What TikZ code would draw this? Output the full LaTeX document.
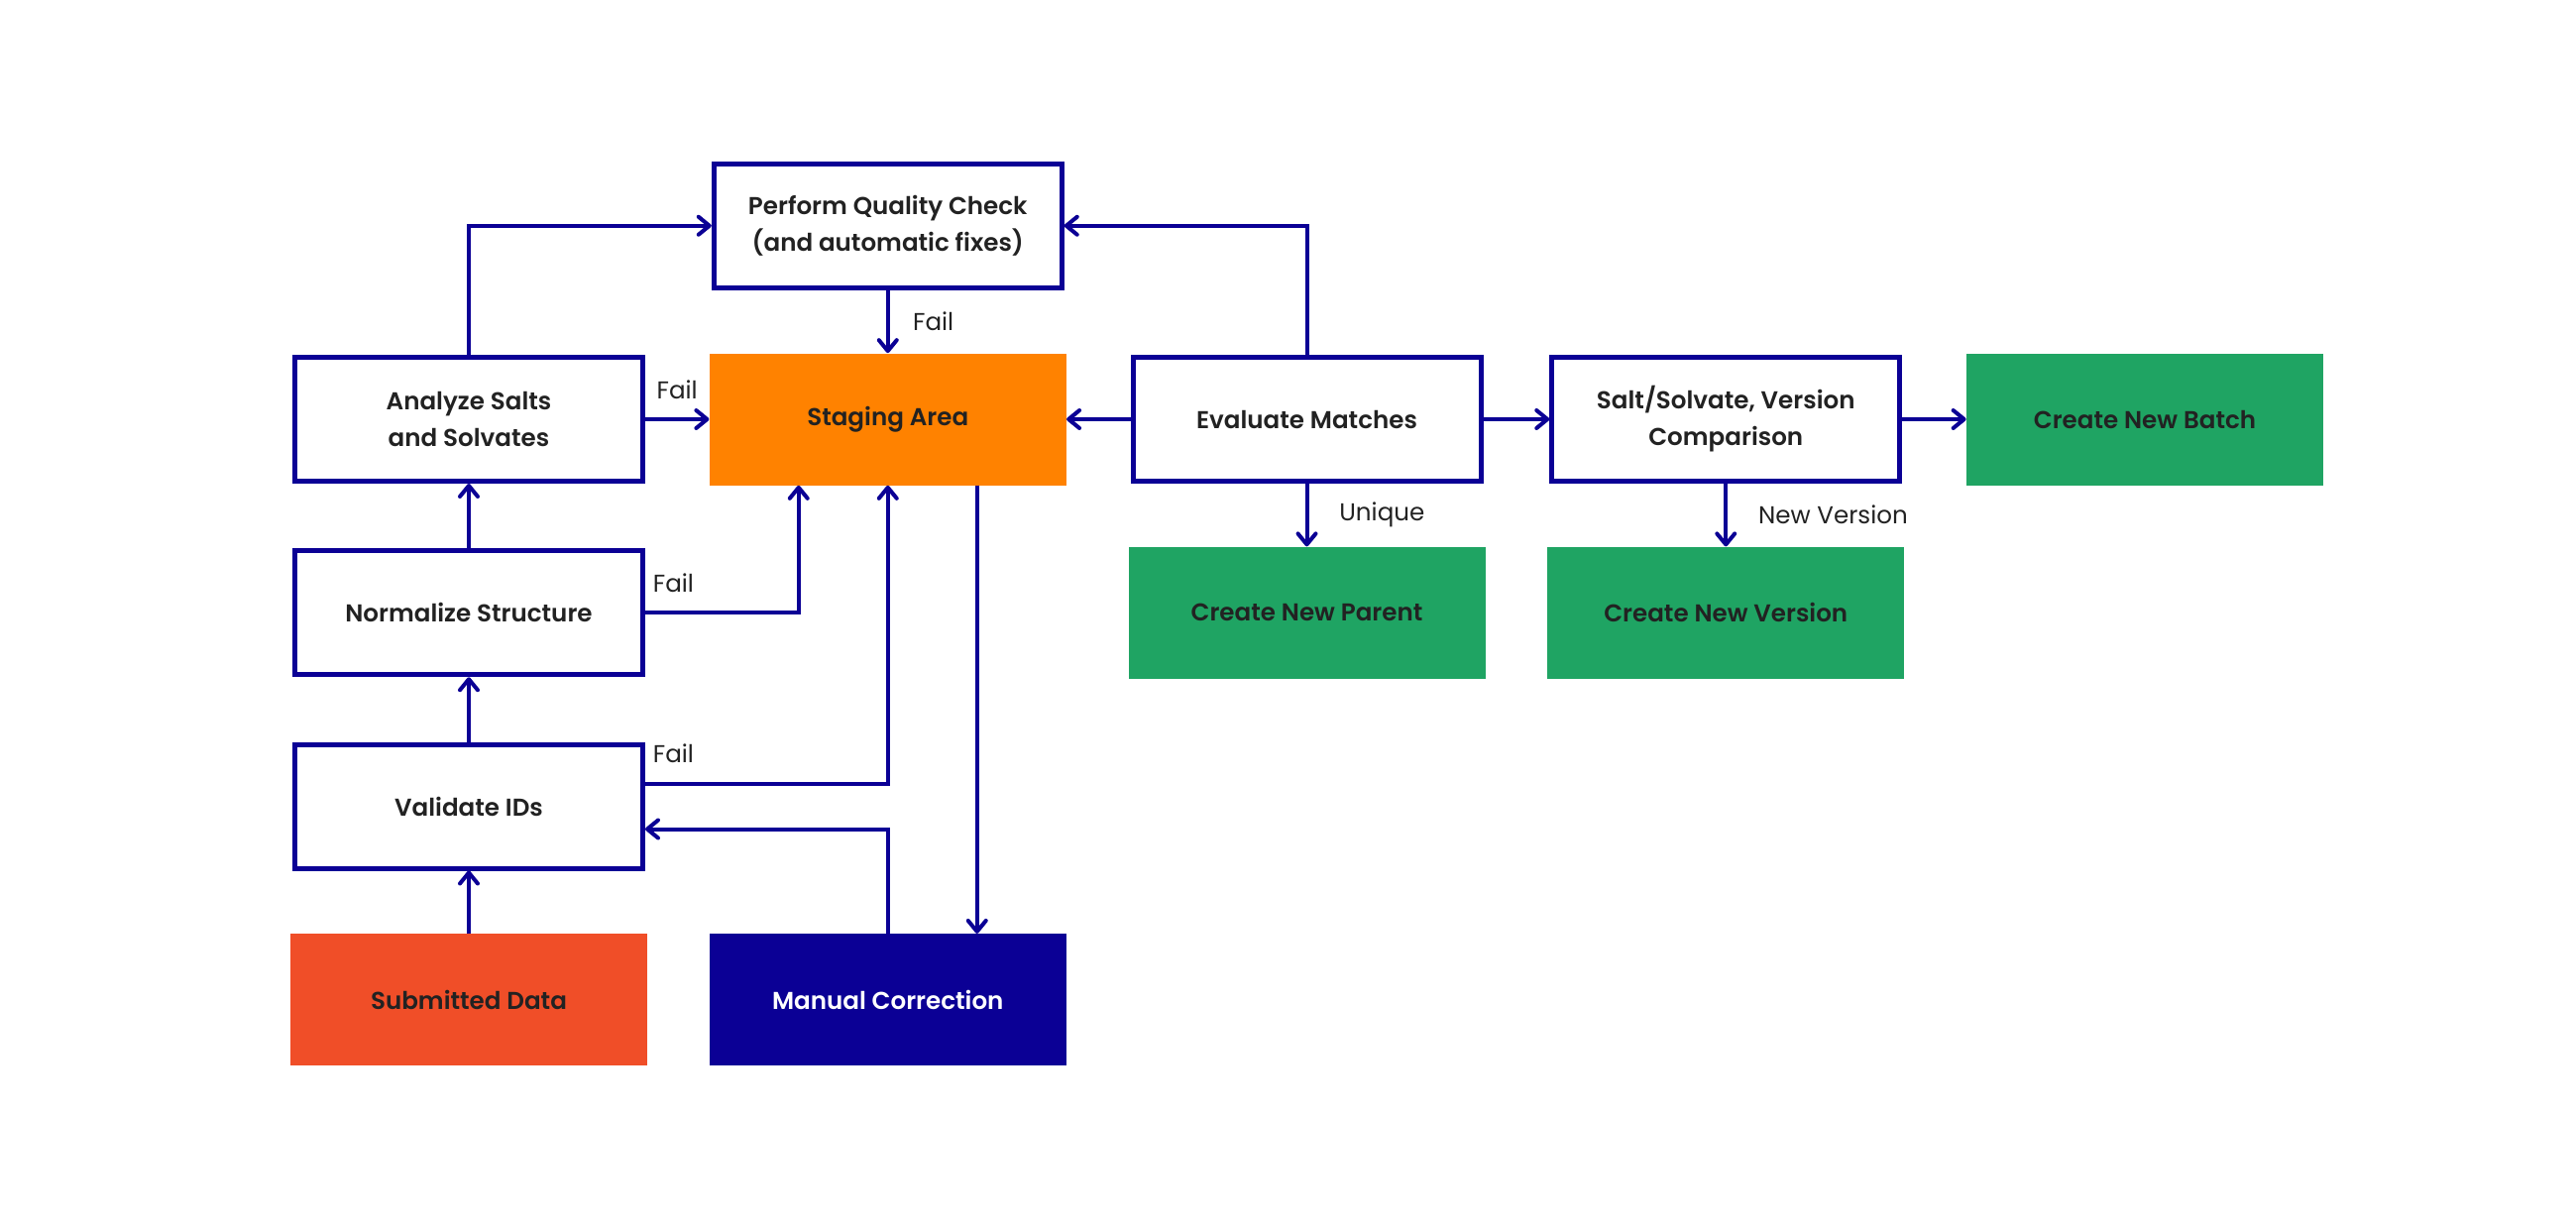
\documentclass[tikz,border=0pt]{standalone}
\usepackage{fontspec}
\setmainfont{Poppins}
\newfontfamily\boxfont{Poppins SemiBold}
\usetikzlibrary{arrows.meta,positioning}

\definecolor{navy}{HTML}{0B0095}
\definecolor{stageorange}{HTML}{FF8200}
\definecolor{inputred}{HTML}{F04E28}
\definecolor{resultgreen}{HTML}{1FA463}
\definecolor{ink}{HTML}{222222}

\tikzset{
  base/.style={rectangle, align=center, text=ink, font=\boxfont\fontsize{14}{21}\selectfont},
  box/.style={base, draw=navy, line width=1mm, fill=white, minimum width=7.02cm, minimum height=2.5cm},
  block/.style={base, minimum width=7.2cm, minimum height=2.66cm},
  stage/.style={block, fill=stageorange},
  input/.style={block, fill=inputred},
  manual/.style={block, fill=navy, text=white},
  result/.style={block, fill=resultgreen},
  flow/.style={draw=navy, line width=0.8mm},
  lbl/.style={on grid=false, text=ink, font=\fontsize{14}{17}\selectfont}
}

\begin{document}
\begin{tikzpicture}[>={Straight Barb[length=2.2mm,width=3.6mm,round]},on grid,node distance=3.905cm and 8.455cm]

            \useasboundingbox (0,0) rectangle (51.98,-24.7);

            \node[box] (analyze) at (9.46,-8.46) {Analyze Salts\\and Solvates};

            \node[stage] (staging) [right=of analyze] {Staging Area};

            \node[box] (qc) [above=of staging] {Perform Quality Check\\(and automatic fixes)};

            \node[box] (eval) [right=of staging] {Evaluate Matches};

            \node[box] (salt) [right=of eval] {Salt/Solvate, Version\\Comparison};

            \node[result] (batch) [right=of salt] {Create New Batch};

            \node[box] (norm) [below=of analyze] {Normalize Structure};

            \node[result] (parent) [below=of eval] {Create New Parent};

            \node[result] (version) [below=of salt] {Create New Version};

            \node[box] (validate) [below=of norm] {Validate IDs};

            \node[input] (submitted) [below=of validate] {Submitted Data};

            \node[manual] (manual) [right=of submitted] {Manual Correction};

            

            \path[->,flow] (submitted) edge (validate)

                           (validate) edge (norm)

                           (norm) edge (analyze)

                           (analyze) edge node[lbl,above=2.5mm] {Fail} (staging)

                           (qc) edge node[lbl,right=3.5mm] {Fail} (staging)

                           (eval) edge (staging)

                                  edge (salt)

                                  edge node[lbl,right=5mm] {Unique} (parent)

                           (salt) edge (batch)

                                  edge node[lbl,right=5mm] {New Version} (version);

            

            \draw[->,flow] (analyze.north) |- (qc.west);

            \draw[->,flow] (eval.north) |- (qc.east);

            \draw[->,flow] (norm.east) node[lbl,above right=2.5mm and 0mm] {Fail} -| ([xshift=-1.8cm]staging.south);

            \draw[->,flow] ([yshift=0.46cm]validate.east) node[lbl,above right=2.5mm and 0mm] {Fail} -| (staging.south);

            \draw[->,flow] (manual.north) |- ([yshift=-0.46cm]validate.east);

            \draw[->,flow] ([xshift=1.8cm]staging.south) -- ([xshift=1.8cm]manual.north);

        \end{tikzpicture}
\end{document}
